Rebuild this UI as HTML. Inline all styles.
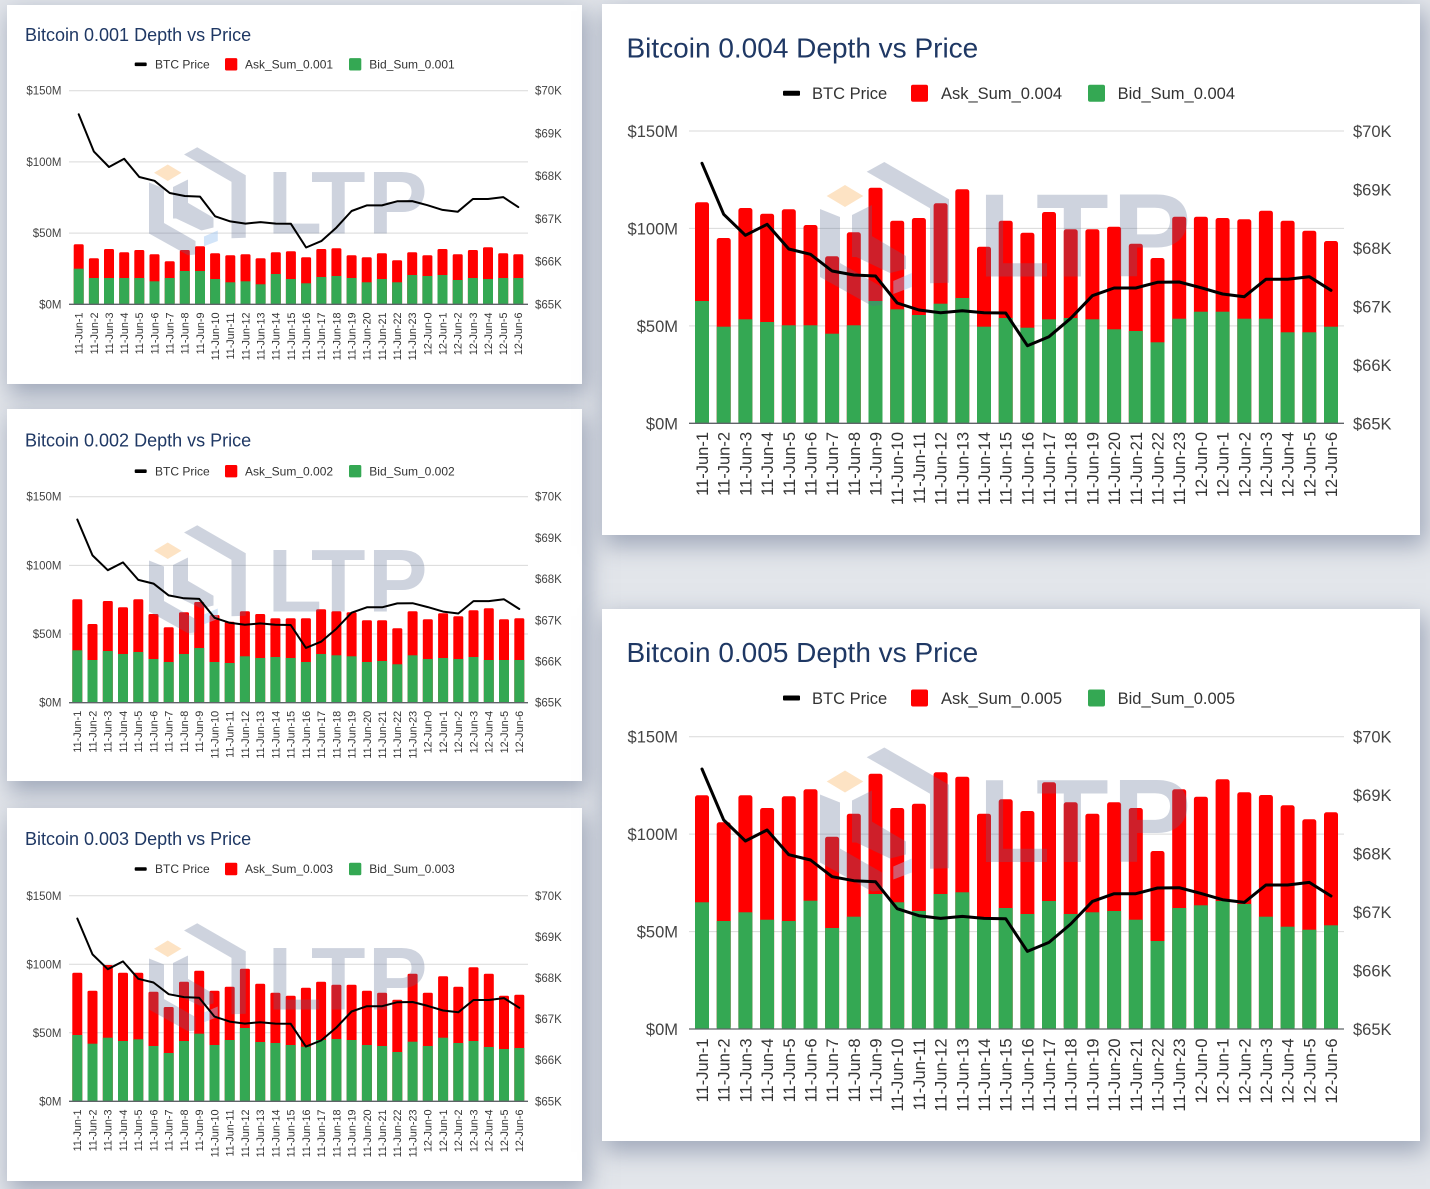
<!DOCTYPE html>
<html><head><meta charset="utf-8"><style>
html,body{margin:0;padding:0;}
body{width:1430px;height:1189px;background:#e3e6eb;position:relative;overflow:hidden;font-family:"Liberation Sans",Arial,sans-serif;}
.p{position:absolute;background:#fff;box-shadow:4px 9px 22px 2px rgba(95,110,140,0.5);}
svg{position:absolute;left:0;top:0;}
.r{fill:#ff0000}.g{fill:#34a853}
.gr{stroke:#d9d9d9;stroke-width:1}
.bs{stroke:#5f6368;stroke-width:1.3}
.ln{fill:none;stroke:#000;stroke-linejoin:round;stroke-linecap:round}
text{font-family:"Liberation Sans",Arial,sans-serif;}
.t1{font-size:18px;fill:#1f3864}
.tb{font-size:28px;fill:#1f3864}
.ax{font-size:11.5px;fill:#444}
.axb{font-size:16.5px;fill:#444}
.xl{font-size:10.8px;fill:#333}
.xlb{font-size:16.5px;fill:#333}
.lg{font-size:12px;fill:#333}
.lgb{font-size:16.5px;fill:#333}
</style></head><body>
<div class="p" style="left:7px;top:5px;width:575px;height:379px"></div>
<div class="p" style="left:7px;top:409px;width:575px;height:372px"></div>
<div class="p" style="left:7px;top:808px;width:575px;height:373px"></div>
<div class="p" style="left:602px;top:4px;width:818px;height:531px"></div>
<div class="p" style="left:602px;top:609px;width:818px;height:532px"></div>
<svg width="1430" height="1189" viewBox="0 0 1430 1189" xmlns="http://www.w3.org/2000/svg">

<!-- ================= CHART 1 ================= -->
<text class="t1" x="25" y="41">Bitcoin 0.001 Depth vs Price</text>
<rect x="134.7" y="62.5" width="12" height="3.6" rx="1" fill="#000"/>
<text class="lg" x="155" y="68.5">BTC Price</text>
<rect x="225" y="58.1" width="12.3" height="12.4" rx="1.5" class="r"/>
<text class="lg" x="245" y="68.5">Ask_Sum_0.001</text>
<rect x="349" y="58.1" width="12.3" height="12.4" rx="1.5" class="g"/>
<text class="lg" x="369.3" y="68.5">Bid_Sum_0.001</text>
<line class="gr" x1="69" y1="90.7" x2="528" y2="90.7"/>
<line class="gr" x1="69" y1="161.9" x2="528" y2="161.9"/>
<line class="gr" x1="69" y1="233.1" x2="528" y2="233.1"/>
<g text-anchor="end" class="ax"><text x="61.5" y="94.7">$150M</text><text x="61.5" y="165.9">$100M</text><text x="61.5" y="237.1">$50M</text><text x="61.5" y="308.3">$0M</text></g>
<g class="ax"><text x="535" y="94.7">$70K</text><text x="535" y="137.4">$69K</text><text x="535" y="180.1">$68K</text><text x="535" y="222.9">$67K</text><text x="535" y="265.6">$66K</text><text x="535" y="308.3">$65K</text></g>
<g>
<rect class="r" x="73.7" y="244.3" width="10" height="60" rx="1.5"/><rect class="g" x="73.7" y="268.7" width="10" height="35.6"/>
<rect class="r" x="88.9" y="258.3" width="10" height="46" rx="1.5"/><rect class="g" x="88.9" y="278" width="10" height="26.3"/>
<rect class="r" x="104" y="249" width="10" height="55.3" rx="1.5"/><rect class="g" x="104" y="278" width="10" height="26.3"/>
<rect class="r" x="119.2" y="252.3" width="10" height="52" rx="1.5"/><rect class="g" x="119.2" y="278" width="10" height="26.3"/>
<rect class="r" x="134.3" y="250" width="10" height="54.3" rx="1.5"/><rect class="g" x="134.3" y="278" width="10" height="26.3"/>
<rect class="r" x="149.5" y="254.3" width="10" height="50" rx="1.5"/><rect class="g" x="149.5" y="281.3" width="10" height="23"/>
<rect class="r" x="164.7" y="261.3" width="10" height="43" rx="1.5"/><rect class="g" x="164.7" y="278" width="10" height="26.3"/>
<rect class="r" x="179.8" y="250" width="10" height="54.3" rx="1.5"/><rect class="g" x="179.8" y="271" width="10" height="33.3"/>
<rect class="r" x="195" y="246.3" width="10" height="58" rx="1.5"/><rect class="g" x="195" y="271" width="10" height="33.3"/>
<rect class="r" x="210.1" y="253.3" width="10" height="51" rx="1.5"/><rect class="g" x="210.1" y="279" width="10" height="25.3"/>
<rect class="r" x="225.3" y="255.3" width="10" height="49" rx="1.5"/><rect class="g" x="225.3" y="282.3" width="10" height="22"/>
<rect class="r" x="240.5" y="254.3" width="10" height="50" rx="1.5"/><rect class="g" x="240.5" y="281.3" width="10" height="23"/>
<rect class="r" x="255.6" y="258.3" width="10" height="46" rx="1.5"/><rect class="g" x="255.6" y="284.3" width="10" height="20"/>
<rect class="r" x="270.8" y="252.3" width="10" height="52" rx="1.5"/><rect class="g" x="270.8" y="274" width="10" height="30.3"/>
<rect class="r" x="285.9" y="251.3" width="10" height="53" rx="1.5"/><rect class="g" x="285.9" y="279" width="10" height="25.3"/>
<rect class="r" x="301.1" y="257.3" width="10" height="47" rx="1.5"/><rect class="g" x="301.1" y="283.3" width="10" height="21"/>
<rect class="r" x="316.3" y="249" width="10" height="55.3" rx="1.5"/><rect class="g" x="316.3" y="277" width="10" height="27.3"/>
<rect class="r" x="331.4" y="248.3" width="10" height="56" rx="1.5"/><rect class="g" x="331.4" y="276" width="10" height="28.3"/>
<rect class="r" x="346.6" y="255.3" width="10" height="49" rx="1.5"/><rect class="g" x="346.6" y="278" width="10" height="26.3"/>
<rect class="r" x="361.7" y="257.3" width="10" height="47" rx="1.5"/><rect class="g" x="361.7" y="282.3" width="10" height="22"/>
<rect class="r" x="376.9" y="253.3" width="10" height="51" rx="1.5"/><rect class="g" x="376.9" y="279" width="10" height="25.3"/>
<rect class="r" x="392.1" y="260.3" width="10" height="44" rx="1.5"/><rect class="g" x="392.1" y="282.3" width="10" height="22"/>
<rect class="r" x="407.2" y="252.3" width="10" height="52" rx="1.5"/><rect class="g" x="407.2" y="275" width="10" height="29.3"/>
<rect class="r" x="422.4" y="255.3" width="10" height="49" rx="1.5"/><rect class="g" x="422.4" y="276" width="10" height="28.3"/>
<rect class="r" x="437.5" y="249" width="10" height="55.3" rx="1.5"/><rect class="g" x="437.5" y="275" width="10" height="29.3"/>
<rect class="r" x="452.7" y="254.3" width="10" height="50" rx="1.5"/><rect class="g" x="452.7" y="280" width="10" height="24.3"/>
<rect class="r" x="467.9" y="250" width="10" height="54.3" rx="1.5"/><rect class="g" x="467.9" y="278" width="10" height="26.3"/>
<rect class="r" x="483" y="247.3" width="10" height="57" rx="1.5"/><rect class="g" x="483" y="279" width="10" height="25.3"/>
<rect class="r" x="498.2" y="253.3" width="10" height="51" rx="1.5"/><rect class="g" x="498.2" y="278" width="10" height="26.3"/>
<rect class="r" x="513.3" y="254.3" width="10" height="50" rx="1.5"/><rect class="g" x="513.3" y="278" width="10" height="26.3"/>
</g>
<line class="bs" x1="69" y1="304.3" x2="528" y2="304.3"/>
<g transform="translate(149 148) scale(0.75)">
<g fill="#5a6b91" opacity="0.29">
<polygon points="46.7,8.7 64.3,-1 129,36.3 129,119.7 110,120.3 110,45.2"/>
<polygon points="0,46 20,54 20,110 0,112"/>
<polygon points="0,100 20,100 62,124 62,142 52,143 0,114"/>
<polygon points="32,52 52,42 52,94 32,94"/>
<polygon points="32,80 50,72 86,93 86,106 70,110 32,92"/>
<text x="158" y="113.7" font-size="119" font-weight="bold"><tspan x="158">L</tspan><tspan x="216">T</tspan><tspan x="292">P</tspan></text>
</g>
<polygon points="6.7,33 25,22 43.3,33 25,44" fill="#fde3c4"/>
<polygon points="73.3,118 91.7,110 91.7,124 73.3,131" fill="#9cc3f0" opacity="0.45"/>
</g>
<polyline class="ln" stroke-width="2" points="78.7,114.3 93.9,151.6 109,167 124.2,158.8 139.3,177 154.5,180.8 169.7,193 184.8,196 200,196.6 215.1,216.3 230.3,221.4 245.5,223.6 260.6,222.1 275.8,223.6 290.9,223.8 306.1,247.5 321.3,241.1 336.4,227.6 351.6,211 366.7,205.4 381.9,205.4 397.1,201.3 412.2,201.1 427.4,205.2 442.5,209.9 457.7,211.8 472.9,199 488,199 503.2,197.1 518.3,207.1"/>
<g class="xl" text-anchor="end">
<text transform="translate(82.6 312.5) rotate(-90)">11-Jun-1</text>
<text transform="translate(97.8 312.5) rotate(-90)">11-Jun-2</text>
<text transform="translate(112.9 312.5) rotate(-90)">11-Jun-3</text>
<text transform="translate(128.1 312.5) rotate(-90)">11-Jun-4</text>
<text transform="translate(143.2 312.5) rotate(-90)">11-Jun-5</text>
<text transform="translate(158.4 312.5) rotate(-90)">11-Jun-6</text>
<text transform="translate(173.6 312.5) rotate(-90)">11-Jun-7</text>
<text transform="translate(188.7 312.5) rotate(-90)">11-Jun-8</text>
<text transform="translate(203.9 312.5) rotate(-90)">11-Jun-9</text>
<text transform="translate(219 312.5) rotate(-90)">11-Jun-10</text>
<text transform="translate(234.2 312.5) rotate(-90)">11-Jun-11</text>
<text transform="translate(249.4 312.5) rotate(-90)">11-Jun-12</text>
<text transform="translate(264.5 312.5) rotate(-90)">11-Jun-13</text>
<text transform="translate(279.7 312.5) rotate(-90)">11-Jun-14</text>
<text transform="translate(294.8 312.5) rotate(-90)">11-Jun-15</text>
<text transform="translate(310 312.5) rotate(-90)">11-Jun-16</text>
<text transform="translate(325.2 312.5) rotate(-90)">11-Jun-17</text>
<text transform="translate(340.3 312.5) rotate(-90)">11-Jun-18</text>
<text transform="translate(355.5 312.5) rotate(-90)">11-Jun-19</text>
<text transform="translate(370.6 312.5) rotate(-90)">11-Jun-20</text>
<text transform="translate(385.8 312.5) rotate(-90)">11-Jun-21</text>
<text transform="translate(401 312.5) rotate(-90)">11-Jun-22</text>
<text transform="translate(416.1 312.5) rotate(-90)">11-Jun-23</text>
<text transform="translate(431.3 312.5) rotate(-90)">12-Jun-0</text>
<text transform="translate(446.4 312.5) rotate(-90)">12-Jun-1</text>
<text transform="translate(461.6 312.5) rotate(-90)">12-Jun-2</text>
<text transform="translate(476.8 312.5) rotate(-90)">12-Jun-3</text>
<text transform="translate(491.9 312.5) rotate(-90)">12-Jun-4</text>
<text transform="translate(507.1 312.5) rotate(-90)">12-Jun-5</text>
<text transform="translate(522.2 312.5) rotate(-90)">12-Jun-6</text>
</g>

<!-- ================= CHART 2 ================= -->
<text class="t1" x="25" y="446.5">Bitcoin 0.002 Depth vs Price</text>
<rect x="134.7" y="469.4" width="12" height="3.6" rx="1" fill="#000"/>
<text class="lg" x="155" y="475.3">BTC Price</text>
<rect x="225" y="465" width="12.3" height="12.4" rx="1.5" class="r"/>
<text class="lg" x="245" y="475.3">Ask_Sum_0.002</text>
<rect x="349" y="465" width="12.3" height="12.4" rx="1.5" class="g"/>
<text class="lg" x="369.3" y="475.3">Bid_Sum_0.002</text>
<line class="gr" x1="69" y1="496.7" x2="528" y2="496.7"/>
<line class="gr" x1="69" y1="565.4" x2="528" y2="565.4"/>
<line class="gr" x1="69" y1="634" x2="528" y2="634"/>
<g text-anchor="end" class="ax"><text x="61.5" y="500.7">$150M</text><text x="61.5" y="569.4">$100M</text><text x="61.5" y="638">$50M</text><text x="61.5" y="706.7">$0M</text></g>
<g class="ax"><text x="535" y="500.7">$70K</text><text x="535" y="541.9">$69K</text><text x="535" y="583.1">$68K</text><text x="535" y="624.3">$67K</text><text x="535" y="665.5">$66K</text><text x="535" y="706.7">$65K</text></g>
<g>
<rect class="r" x="72.3" y="599.3" width="10" height="103.4" rx="1.5"/><rect class="g" x="72.3" y="650.3" width="10" height="52.4"/>
<rect class="r" x="87.5" y="624" width="10" height="78.7" rx="1.5"/><rect class="g" x="87.5" y="660" width="10" height="42.7"/>
<rect class="r" x="102.8" y="601" width="10" height="101.7" rx="1.5"/><rect class="g" x="102.8" y="651" width="10" height="51.7"/>
<rect class="r" x="118" y="607.3" width="10" height="95.4" rx="1.5"/><rect class="g" x="118" y="654" width="10" height="48.7"/>
<rect class="r" x="133.3" y="599.3" width="10" height="103.4" rx="1.5"/><rect class="g" x="133.3" y="652" width="10" height="50.7"/>
<rect class="r" x="148.5" y="614" width="10" height="88.7" rx="1.5"/><rect class="g" x="148.5" y="659" width="10" height="43.7"/>
<rect class="r" x="163.7" y="627.3" width="10" height="75.4" rx="1.5"/><rect class="g" x="163.7" y="662" width="10" height="40.7"/>
<rect class="r" x="179" y="612.3" width="10" height="90.4" rx="1.5"/><rect class="g" x="179" y="654" width="10" height="48.7"/>
<rect class="r" x="194.2" y="602" width="10" height="100.7" rx="1.5"/><rect class="g" x="194.2" y="648" width="10" height="54.7"/>
<rect class="r" x="209.5" y="615" width="10" height="87.7" rx="1.5"/><rect class="g" x="209.5" y="662" width="10" height="40.7"/>
<rect class="r" x="224.7" y="621.7" width="10" height="81" rx="1.5"/><rect class="g" x="224.7" y="663" width="10" height="39.7"/>
<rect class="r" x="239.9" y="611.3" width="10" height="91.4" rx="1.5"/><rect class="g" x="239.9" y="656.3" width="10" height="46.4"/>
<rect class="r" x="255.2" y="614" width="10" height="88.7" rx="1.5"/><rect class="g" x="255.2" y="658" width="10" height="44.7"/>
<rect class="r" x="270.4" y="618.3" width="10" height="84.4" rx="1.5"/><rect class="g" x="270.4" y="657" width="10" height="45.7"/>
<rect class="r" x="285.7" y="618.3" width="10" height="84.4" rx="1.5"/><rect class="g" x="285.7" y="658" width="10" height="44.7"/>
<rect class="r" x="300.9" y="618.3" width="10" height="84.4" rx="1.5"/><rect class="g" x="300.9" y="662" width="10" height="40.7"/>
<rect class="r" x="316.1" y="609.3" width="10" height="93.4" rx="1.5"/><rect class="g" x="316.1" y="654" width="10" height="48.7"/>
<rect class="r" x="331.4" y="611.3" width="10" height="91.4" rx="1.5"/><rect class="g" x="331.4" y="655.3" width="10" height="47.4"/>
<rect class="r" x="346.6" y="612.3" width="10" height="90.4" rx="1.5"/><rect class="g" x="346.6" y="656.3" width="10" height="46.4"/>
<rect class="r" x="361.9" y="620.3" width="10" height="82.4" rx="1.5"/><rect class="g" x="361.9" y="662" width="10" height="40.7"/>
<rect class="r" x="377.1" y="620.3" width="10" height="82.4" rx="1.5"/><rect class="g" x="377.1" y="661" width="10" height="41.7"/>
<rect class="r" x="392.3" y="628.3" width="10" height="74.4" rx="1.5"/><rect class="g" x="392.3" y="664.3" width="10" height="38.4"/>
<rect class="r" x="407.6" y="611.3" width="10" height="91.4" rx="1.5"/><rect class="g" x="407.6" y="655.3" width="10" height="47.4"/>
<rect class="r" x="422.8" y="619.3" width="10" height="83.4" rx="1.5"/><rect class="g" x="422.8" y="659" width="10" height="43.7"/>
<rect class="r" x="438.1" y="613.3" width="10" height="89.4" rx="1.5"/><rect class="g" x="438.1" y="658" width="10" height="44.7"/>
<rect class="r" x="453.3" y="616.3" width="10" height="86.4" rx="1.5"/><rect class="g" x="453.3" y="659" width="10" height="43.7"/>
<rect class="r" x="468.5" y="610.3" width="10" height="92.4" rx="1.5"/><rect class="g" x="468.5" y="657" width="10" height="45.7"/>
<rect class="r" x="483.8" y="608.3" width="10" height="94.4" rx="1.5"/><rect class="g" x="483.8" y="660" width="10" height="42.7"/>
<rect class="r" x="499" y="619.3" width="10" height="83.4" rx="1.5"/><rect class="g" x="499" y="660" width="10" height="42.7"/>
<rect class="r" x="514.3" y="618.3" width="10" height="84.4" rx="1.5"/><rect class="g" x="514.3" y="660" width="10" height="42.7"/>
</g>
<line class="bs" x1="69" y1="702.7" x2="528" y2="702.7"/>
<g transform="translate(149 526) scale(0.75)">
<g fill="#5a6b91" opacity="0.29">
<polygon points="46.7,8.7 64.3,-1 129,36.3 129,119.7 110,120.3 110,45.2"/>
<polygon points="0,46 20,54 20,110 0,112"/>
<polygon points="0,100 20,100 62,124 62,142 52,143 0,114"/>
<polygon points="32,52 52,42 52,94 32,94"/>
<polygon points="32,80 50,72 86,93 86,106 70,110 32,92"/>
<text x="158" y="113.7" font-size="119" font-weight="bold"><tspan x="158">L</tspan><tspan x="216">T</tspan><tspan x="292">P</tspan></text>
</g>
<polygon points="6.7,33 25,22 43.3,33 25,44" fill="#fde3c4"/>
<polygon points="73.3,118 91.7,110 91.7,124 73.3,131" fill="#9cc3f0" opacity="0.45"/>
</g>
<polyline class="ln" stroke-width="2" points="77.3,519.5 92.5,555.4 107.8,570.2 123,562.4 138.3,579.9 153.5,583.6 168.7,595.4 184,598.3 199.2,598.9 214.5,617.8 229.7,622.8 244.9,624.8 260.2,623.4 275.4,624.8 290.7,625 305.9,647.9 321.1,641.7 336.4,628.7 351.6,612.7 366.9,607.3 382.1,607.3 397.3,603.4 412.6,603.2 427.8,607.1 443.1,611.6 458.3,613.5 473.5,601.1 488.8,601.1 504,599.3 519.3,609"/>
<g class="xl" text-anchor="end">
<text transform="translate(81.2 710.8) rotate(-90)">11-Jun-1</text>
<text transform="translate(96.4 710.8) rotate(-90)">11-Jun-2</text>
<text transform="translate(111.7 710.8) rotate(-90)">11-Jun-3</text>
<text transform="translate(126.9 710.8) rotate(-90)">11-Jun-4</text>
<text transform="translate(142.2 710.8) rotate(-90)">11-Jun-5</text>
<text transform="translate(157.4 710.8) rotate(-90)">11-Jun-6</text>
<text transform="translate(172.6 710.8) rotate(-90)">11-Jun-7</text>
<text transform="translate(187.9 710.8) rotate(-90)">11-Jun-8</text>
<text transform="translate(203.1 710.8) rotate(-90)">11-Jun-9</text>
<text transform="translate(218.4 710.8) rotate(-90)">11-Jun-10</text>
<text transform="translate(233.6 710.8) rotate(-90)">11-Jun-11</text>
<text transform="translate(248.8 710.8) rotate(-90)">11-Jun-12</text>
<text transform="translate(264.1 710.8) rotate(-90)">11-Jun-13</text>
<text transform="translate(279.3 710.8) rotate(-90)">11-Jun-14</text>
<text transform="translate(294.6 710.8) rotate(-90)">11-Jun-15</text>
<text transform="translate(309.8 710.8) rotate(-90)">11-Jun-16</text>
<text transform="translate(325 710.8) rotate(-90)">11-Jun-17</text>
<text transform="translate(340.3 710.8) rotate(-90)">11-Jun-18</text>
<text transform="translate(355.5 710.8) rotate(-90)">11-Jun-19</text>
<text transform="translate(370.8 710.8) rotate(-90)">11-Jun-20</text>
<text transform="translate(386 710.8) rotate(-90)">11-Jun-21</text>
<text transform="translate(401.2 710.8) rotate(-90)">11-Jun-22</text>
<text transform="translate(416.5 710.8) rotate(-90)">11-Jun-23</text>
<text transform="translate(431.7 710.8) rotate(-90)">12-Jun-0</text>
<text transform="translate(447 710.8) rotate(-90)">12-Jun-1</text>
<text transform="translate(462.2 710.8) rotate(-90)">12-Jun-2</text>
<text transform="translate(477.4 710.8) rotate(-90)">12-Jun-3</text>
<text transform="translate(492.7 710.8) rotate(-90)">12-Jun-4</text>
<text transform="translate(507.9 710.8) rotate(-90)">12-Jun-5</text>
<text transform="translate(523.2 710.8) rotate(-90)">12-Jun-6</text>
</g>

<!-- ================= CHART 3 ================= -->
<text class="t1" x="25" y="845">Bitcoin 0.003 Depth vs Price</text>
<rect x="134.7" y="867.2" width="12" height="3.6" rx="1" fill="#000"/>
<text class="lg" x="155" y="873.2">BTC Price</text>
<rect x="225" y="862.8" width="12.3" height="12.4" rx="1.5" class="r"/>
<text class="lg" x="245" y="873.2">Ask_Sum_0.003</text>
<rect x="349" y="862.8" width="12.3" height="12.4" rx="1.5" class="g"/>
<text class="lg" x="369.3" y="873.2">Bid_Sum_0.003</text>
<line class="gr" x1="69" y1="895.8" x2="528" y2="895.8"/>
<line class="gr" x1="69" y1="964.3" x2="528" y2="964.3"/>
<line class="gr" x1="69" y1="1032.8" x2="528" y2="1032.8"/>
<g text-anchor="end" class="ax"><text x="61.5" y="899.8">$150M</text><text x="61.5" y="968.3">$100M</text><text x="61.5" y="1036.8">$50M</text><text x="61.5" y="1105.3">$0M</text></g>
<g class="ax"><text x="535" y="899.8">$70K</text><text x="535" y="940.9">$69K</text><text x="535" y="982">$68K</text><text x="535" y="1023.1">$67K</text><text x="535" y="1064.2">$66K</text><text x="535" y="1105.3">$65K</text></g>
<g>
<rect class="r" x="72.3" y="972.7" width="10" height="128.6" rx="1.5"/><rect class="g" x="72.3" y="1035" width="10" height="66.3"/>
<rect class="r" x="87.5" y="990.7" width="10" height="110.6" rx="1.5"/><rect class="g" x="87.5" y="1043.7" width="10" height="57.6"/>
<rect class="r" x="102.8" y="965" width="10" height="136.3" rx="1.5"/><rect class="g" x="102.8" y="1037.7" width="10" height="63.6"/>
<rect class="r" x="118" y="972.7" width="10" height="128.6" rx="1.5"/><rect class="g" x="118" y="1041" width="10" height="60.3"/>
<rect class="r" x="133.3" y="972.7" width="10" height="128.6" rx="1.5"/><rect class="g" x="133.3" y="1039.3" width="10" height="62"/>
<rect class="r" x="148.5" y="991.7" width="10" height="109.6" rx="1.5"/><rect class="g" x="148.5" y="1046" width="10" height="55.3"/>
<rect class="r" x="163.7" y="1007" width="10" height="94.3" rx="1.5"/><rect class="g" x="163.7" y="1053" width="10" height="48.3"/>
<rect class="r" x="179" y="981.7" width="10" height="119.6" rx="1.5"/><rect class="g" x="179" y="1041" width="10" height="60.3"/>
<rect class="r" x="194.2" y="970.7" width="10" height="130.6" rx="1.5"/><rect class="g" x="194.2" y="1033.7" width="10" height="67.6"/>
<rect class="r" x="209.5" y="990.7" width="10" height="110.6" rx="1.5"/><rect class="g" x="209.5" y="1045" width="10" height="56.3"/>
<rect class="r" x="224.7" y="986.7" width="10" height="114.6" rx="1.5"/><rect class="g" x="224.7" y="1040" width="10" height="61.3"/>
<rect class="r" x="239.9" y="968.7" width="10" height="132.6" rx="1.5"/><rect class="g" x="239.9" y="1028" width="10" height="73.3"/>
<rect class="r" x="255.2" y="983.7" width="10" height="117.6" rx="1.5"/><rect class="g" x="255.2" y="1042" width="10" height="59.3"/>
<rect class="r" x="270.4" y="992.7" width="10" height="108.6" rx="1.5"/><rect class="g" x="270.4" y="1043" width="10" height="58.3"/>
<rect class="r" x="285.7" y="995.7" width="10" height="105.6" rx="1.5"/><rect class="g" x="285.7" y="1045" width="10" height="56.3"/>
<rect class="r" x="300.9" y="987.7" width="10" height="113.6" rx="1.5"/><rect class="g" x="300.9" y="1046.7" width="10" height="54.6"/>
<rect class="r" x="316.1" y="981.7" width="10" height="119.6" rx="1.5"/><rect class="g" x="316.1" y="1040" width="10" height="61.3"/>
<rect class="r" x="331.4" y="984.7" width="10" height="116.6" rx="1.5"/><rect class="g" x="331.4" y="1039" width="10" height="62.3"/>
<rect class="r" x="346.6" y="984.7" width="10" height="116.6" rx="1.5"/><rect class="g" x="346.6" y="1040" width="10" height="61.3"/>
<rect class="r" x="361.9" y="990.7" width="10" height="110.6" rx="1.5"/><rect class="g" x="361.9" y="1045" width="10" height="56.3"/>
<rect class="r" x="377.1" y="992.7" width="10" height="108.6" rx="1.5"/><rect class="g" x="377.1" y="1046" width="10" height="55.3"/>
<rect class="r" x="392.3" y="999.7" width="10" height="101.6" rx="1.5"/><rect class="g" x="392.3" y="1052" width="10" height="49.3"/>
<rect class="r" x="407.6" y="973.7" width="10" height="127.6" rx="1.5"/><rect class="g" x="407.6" y="1041.7" width="10" height="59.6"/>
<rect class="r" x="422.8" y="992.7" width="10" height="108.6" rx="1.5"/><rect class="g" x="422.8" y="1046" width="10" height="55.3"/>
<rect class="r" x="438.1" y="976.3" width="10" height="125" rx="1.5"/><rect class="g" x="438.1" y="1037.7" width="10" height="63.6"/>
<rect class="r" x="453.3" y="986.7" width="10" height="114.6" rx="1.5"/><rect class="g" x="453.3" y="1043" width="10" height="58.3"/>
<rect class="r" x="468.5" y="967.3" width="10" height="134" rx="1.5"/><rect class="g" x="468.5" y="1041" width="10" height="60.3"/>
<rect class="r" x="483.8" y="973.7" width="10" height="127.6" rx="1.5"/><rect class="g" x="483.8" y="1047" width="10" height="54.3"/>
<rect class="r" x="499" y="995.7" width="10" height="105.6" rx="1.5"/><rect class="g" x="499" y="1049" width="10" height="52.3"/>
<rect class="r" x="514.3" y="994.7" width="10" height="106.6" rx="1.5"/><rect class="g" x="514.3" y="1048" width="10" height="53.3"/>
</g>
<line class="bs" x1="69" y1="1101.3" x2="528" y2="1101.3"/>
<g transform="translate(149 924) scale(0.75)">
<g fill="#5a6b91" opacity="0.29">
<polygon points="46.7,8.7 64.3,-1 129,36.3 129,119.7 110,120.3 110,45.2"/>
<polygon points="0,46 20,54 20,110 0,112"/>
<polygon points="0,100 20,100 62,124 62,142 52,143 0,114"/>
<polygon points="32,52 52,42 52,94 32,94"/>
<polygon points="32,80 50,72 86,93 86,106 70,110 32,92"/>
<text x="158" y="113.7" font-size="119" font-weight="bold"><tspan x="158">L</tspan><tspan x="216">T</tspan><tspan x="292">P</tspan></text>
</g>
<polygon points="6.7,33 25,22 43.3,33 25,44" fill="#fde3c4"/>
<polygon points="73.3,118 91.7,110 91.7,124 73.3,131" fill="#9cc3f0" opacity="0.45"/>
</g>
<polyline class="ln" stroke-width="2" points="77.3,918.5 92.5,954.4 107.8,969.2 123,961.4 138.3,978.8 153.5,982.5 168.7,994.2 184,997.1 199.2,997.7 214.5,1016.6 229.7,1021.6 244.9,1023.6 260.2,1022.2 275.4,1023.6 290.7,1023.8 305.9,1046.6 321.1,1040.5 336.4,1027.5 351.6,1011.5 366.9,1006.2 382.1,1006.2 397.3,1002.2 412.6,1002 427.8,1005.9 443.1,1010.5 458.3,1012.3 473.5,1000 488.8,1000 504,998.1 519.3,1007.8"/>
<g class="xl" text-anchor="end">
<text transform="translate(81.2 1109.5) rotate(-90)">11-Jun-1</text>
<text transform="translate(96.4 1109.5) rotate(-90)">11-Jun-2</text>
<text transform="translate(111.7 1109.5) rotate(-90)">11-Jun-3</text>
<text transform="translate(126.9 1109.5) rotate(-90)">11-Jun-4</text>
<text transform="translate(142.2 1109.5) rotate(-90)">11-Jun-5</text>
<text transform="translate(157.4 1109.5) rotate(-90)">11-Jun-6</text>
<text transform="translate(172.6 1109.5) rotate(-90)">11-Jun-7</text>
<text transform="translate(187.9 1109.5) rotate(-90)">11-Jun-8</text>
<text transform="translate(203.1 1109.5) rotate(-90)">11-Jun-9</text>
<text transform="translate(218.4 1109.5) rotate(-90)">11-Jun-10</text>
<text transform="translate(233.6 1109.5) rotate(-90)">11-Jun-11</text>
<text transform="translate(248.8 1109.5) rotate(-90)">11-Jun-12</text>
<text transform="translate(264.1 1109.5) rotate(-90)">11-Jun-13</text>
<text transform="translate(279.3 1109.5) rotate(-90)">11-Jun-14</text>
<text transform="translate(294.6 1109.5) rotate(-90)">11-Jun-15</text>
<text transform="translate(309.8 1109.5) rotate(-90)">11-Jun-16</text>
<text transform="translate(325 1109.5) rotate(-90)">11-Jun-17</text>
<text transform="translate(340.3 1109.5) rotate(-90)">11-Jun-18</text>
<text transform="translate(355.5 1109.5) rotate(-90)">11-Jun-19</text>
<text transform="translate(370.8 1109.5) rotate(-90)">11-Jun-20</text>
<text transform="translate(386 1109.5) rotate(-90)">11-Jun-21</text>
<text transform="translate(401.2 1109.5) rotate(-90)">11-Jun-22</text>
<text transform="translate(416.5 1109.5) rotate(-90)">11-Jun-23</text>
<text transform="translate(431.7 1109.5) rotate(-90)">12-Jun-0</text>
<text transform="translate(447 1109.5) rotate(-90)">12-Jun-1</text>
<text transform="translate(462.2 1109.5) rotate(-90)">12-Jun-2</text>
<text transform="translate(477.4 1109.5) rotate(-90)">12-Jun-3</text>
<text transform="translate(492.7 1109.5) rotate(-90)">12-Jun-4</text>
<text transform="translate(507.9 1109.5) rotate(-90)">12-Jun-5</text>
<text transform="translate(523.2 1109.5) rotate(-90)">12-Jun-6</text>
</g>

<!-- ================= CHART 4 ================= -->
<text class="tb" x="626.5" y="57.5">Bitcoin 0.004 Depth vs Price</text>
<rect x="783" y="90.7" width="17" height="5" rx="1" fill="#000"/>
<text class="lgb" x="812" y="99">BTC Price</text>
<rect x="911" y="84.7" width="17" height="17" rx="2" class="r"/>
<text class="lgb" x="941" y="99">Ask_Sum_0.004</text>
<rect x="1088" y="84.7" width="17" height="17" rx="2" class="g"/>
<text class="lgb" x="1117.6" y="99">Bid_Sum_0.004</text>
<line class="gr" x1="689" y1="131" x2="1344" y2="131" stroke-width="1.3"/>
<line class="gr" x1="689" y1="228.4" x2="1344" y2="228.4" stroke-width="1.3"/>
<line class="gr" x1="689" y1="325.9" x2="1344" y2="325.9" stroke-width="1.3"/>
<g text-anchor="end" class="axb"><text x="678" y="137">$150M</text><text x="678" y="234.4">$100M</text><text x="678" y="331.9">$50M</text><text x="678" y="429.3">$0M</text></g>
<g class="axb"><text x="1353" y="137">$70K</text><text x="1353" y="195.5">$69K</text><text x="1353" y="253.9">$68K</text><text x="1353" y="312.4">$67K</text><text x="1353" y="370.8">$66K</text><text x="1353" y="429.3">$65K</text></g>
<g>
<rect class="r" x="695" y="202.3" width="14" height="221" rx="2.5"/><rect class="g" x="695" y="301" width="14" height="122.3"/>
<rect class="r" x="716.7" y="238" width="14" height="185.3" rx="2.5"/><rect class="g" x="716.7" y="326.7" width="14" height="96.6"/>
<rect class="r" x="738.4" y="208" width="14" height="215.3" rx="2.5"/><rect class="g" x="738.4" y="319.3" width="14" height="104"/>
<rect class="r" x="760.1" y="213.7" width="14" height="209.6" rx="2.5"/><rect class="g" x="760.1" y="322" width="14" height="101.3"/>
<rect class="r" x="781.8" y="209.3" width="14" height="214" rx="2.5"/><rect class="g" x="781.8" y="325.3" width="14" height="98"/>
<rect class="r" x="803.5" y="225" width="14" height="198.3" rx="2.5"/><rect class="g" x="803.5" y="325.3" width="14" height="98"/>
<rect class="r" x="825.1" y="256.3" width="14" height="167" rx="2.5"/><rect class="g" x="825.1" y="333.7" width="14" height="89.6"/>
<rect class="r" x="846.8" y="232.3" width="14" height="191" rx="2.5"/><rect class="g" x="846.8" y="325.3" width="14" height="98"/>
<rect class="r" x="868.5" y="187.7" width="14" height="235.6" rx="2.5"/><rect class="g" x="868.5" y="301" width="14" height="122.3"/>
<rect class="r" x="890.2" y="220.7" width="14" height="202.6" rx="2.5"/><rect class="g" x="890.2" y="309.3" width="14" height="114"/>
<rect class="r" x="911.9" y="218" width="14" height="205.3" rx="2.5"/><rect class="g" x="911.9" y="315" width="14" height="108.3"/>
<rect class="r" x="933.6" y="203.3" width="14" height="220" rx="2.5"/><rect class="g" x="933.6" y="303.7" width="14" height="119.6"/>
<rect class="r" x="955.3" y="189.3" width="14" height="234" rx="2.5"/><rect class="g" x="955.3" y="298" width="14" height="125.3"/>
<rect class="r" x="977" y="246.7" width="14" height="176.6" rx="2.5"/><rect class="g" x="977" y="326.7" width="14" height="96.6"/>
<rect class="r" x="998.7" y="220.7" width="14" height="202.6" rx="2.5"/><rect class="g" x="998.7" y="318" width="14" height="105.3"/>
<rect class="r" x="1020.4" y="232.7" width="14" height="190.6" rx="2.5"/><rect class="g" x="1020.4" y="327.7" width="14" height="95.6"/>
<rect class="r" x="1042" y="212" width="14" height="211.3" rx="2.5"/><rect class="g" x="1042" y="319.3" width="14" height="104"/>
<rect class="r" x="1063.7" y="229.3" width="14" height="194" rx="2.5"/><rect class="g" x="1063.7" y="318" width="14" height="105.3"/>
<rect class="r" x="1085.4" y="229.3" width="14" height="194" rx="2.5"/><rect class="g" x="1085.4" y="319.3" width="14" height="104"/>
<rect class="r" x="1107.1" y="226.7" width="14" height="196.6" rx="2.5"/><rect class="g" x="1107.1" y="329.3" width="14" height="94"/>
<rect class="r" x="1128.8" y="243.7" width="14" height="179.6" rx="2.5"/><rect class="g" x="1128.8" y="331" width="14" height="92.3"/>
<rect class="r" x="1150.5" y="258" width="14" height="165.3" rx="2.5"/><rect class="g" x="1150.5" y="342.3" width="14" height="81"/>
<rect class="r" x="1172.2" y="216.7" width="14" height="206.6" rx="2.5"/><rect class="g" x="1172.2" y="318.7" width="14" height="104.6"/>
<rect class="r" x="1193.9" y="216.7" width="14" height="206.6" rx="2.5"/><rect class="g" x="1193.9" y="311.7" width="14" height="111.6"/>
<rect class="r" x="1215.6" y="218" width="14" height="205.3" rx="2.5"/><rect class="g" x="1215.6" y="311.7" width="14" height="111.6"/>
<rect class="r" x="1237.3" y="219.3" width="14" height="204" rx="2.5"/><rect class="g" x="1237.3" y="318.7" width="14" height="104.6"/>
<rect class="r" x="1258.9" y="210.7" width="14" height="212.6" rx="2.5"/><rect class="g" x="1258.9" y="318.7" width="14" height="104.6"/>
<rect class="r" x="1280.6" y="220.7" width="14" height="202.6" rx="2.5"/><rect class="g" x="1280.6" y="332.3" width="14" height="91"/>
<rect class="r" x="1302.3" y="230.7" width="14" height="192.6" rx="2.5"/><rect class="g" x="1302.3" y="332.3" width="14" height="91"/>
<rect class="r" x="1324" y="241" width="14" height="182.3" rx="2.5"/><rect class="g" x="1324" y="326.7" width="14" height="96.6"/>
</g>
<line class="bs" x1="689" y1="423.3" x2="1344" y2="423.3" stroke-width="1.8"/>
<g transform="translate(820 163)">
<g fill="#5a6b91" opacity="0.29">
<polygon points="46.7,8.7 64.3,-1 129,36.3 129,119.7 110,120.3 110,45.2"/>
<polygon points="0,46 20,54 20,110 0,112"/>
<polygon points="0,100 20,100 62,124 62,142 52,143 0,114"/>
<polygon points="32,52 52,42 52,94 32,94"/>
<polygon points="32,80 50,72 86,93 86,106 70,110 32,92"/>
<text x="158" y="113.7" font-size="119" font-weight="bold"><tspan x="158">L</tspan><tspan x="216">T</tspan><tspan x="292">P</tspan></text>
</g>
<polygon points="6.7,33 25,22 43.3,33 25,44" fill="#fde3c4"/>
<polygon points="73.3,118 91.7,110 91.7,124 73.3,131" fill="#9cc3f0" opacity="0.45"/>
</g>
<polyline class="ln" stroke-width="3" points="702,163.3 723.7,214.3 745.4,235.3 767.1,224.3 788.8,249 810.5,254.3 832.1,271 853.8,275 875.5,276 897.2,303 918.9,310 940.6,312.7 962.3,310.7 984,312.7 1005.7,313 1027.4,345.7 1049,336.7 1070.7,318.3 1092.4,295.7 1114.1,288 1135.8,288 1157.5,282.3 1179.2,282 1200.9,287.7 1222.6,294 1244.3,296.7 1265.9,279.3 1287.6,279.3 1309.3,276.7 1331,290.3"/>
<g class="xlb" text-anchor="end">
<text transform="translate(708 432) rotate(-90)">11-Jun-1</text>
<text transform="translate(729.7 432) rotate(-90)">11-Jun-2</text>
<text transform="translate(751.4 432) rotate(-90)">11-Jun-3</text>
<text transform="translate(773.1 432) rotate(-90)">11-Jun-4</text>
<text transform="translate(794.8 432) rotate(-90)">11-Jun-5</text>
<text transform="translate(816.5 432) rotate(-90)">11-Jun-6</text>
<text transform="translate(838.1 432) rotate(-90)">11-Jun-7</text>
<text transform="translate(859.8 432) rotate(-90)">11-Jun-8</text>
<text transform="translate(881.5 432) rotate(-90)">11-Jun-9</text>
<text transform="translate(903.2 432) rotate(-90)">11-Jun-10</text>
<text transform="translate(924.9 432) rotate(-90)">11-Jun-11</text>
<text transform="translate(946.6 432) rotate(-90)">11-Jun-12</text>
<text transform="translate(968.3 432) rotate(-90)">11-Jun-13</text>
<text transform="translate(990 432) rotate(-90)">11-Jun-14</text>
<text transform="translate(1011.7 432) rotate(-90)">11-Jun-15</text>
<text transform="translate(1033.4 432) rotate(-90)">11-Jun-16</text>
<text transform="translate(1055 432) rotate(-90)">11-Jun-17</text>
<text transform="translate(1076.7 432) rotate(-90)">11-Jun-18</text>
<text transform="translate(1098.4 432) rotate(-90)">11-Jun-19</text>
<text transform="translate(1120.1 432) rotate(-90)">11-Jun-20</text>
<text transform="translate(1141.8 432) rotate(-90)">11-Jun-21</text>
<text transform="translate(1163.5 432) rotate(-90)">11-Jun-22</text>
<text transform="translate(1185.2 432) rotate(-90)">11-Jun-23</text>
<text transform="translate(1206.9 432) rotate(-90)">12-Jun-0</text>
<text transform="translate(1228.6 432) rotate(-90)">12-Jun-1</text>
<text transform="translate(1250.3 432) rotate(-90)">12-Jun-2</text>
<text transform="translate(1271.9 432) rotate(-90)">12-Jun-3</text>
<text transform="translate(1293.6 432) rotate(-90)">12-Jun-4</text>
<text transform="translate(1315.3 432) rotate(-90)">12-Jun-5</text>
<text transform="translate(1337 432) rotate(-90)">12-Jun-6</text>
</g>

<!-- ================= CHART 5 ================= -->
<text class="tb" x="626.5" y="662">Bitcoin 0.005 Depth vs Price</text>
<rect x="783" y="695.5" width="17" height="5" rx="1" fill="#000"/>
<text class="lgb" x="812" y="704">BTC Price</text>
<rect x="911" y="689.5" width="17" height="17" rx="2" class="r"/>
<text class="lgb" x="941" y="704">Ask_Sum_0.005</text>
<rect x="1088" y="689.5" width="17" height="17" rx="2" class="g"/>
<text class="lgb" x="1117.6" y="704">Bid_Sum_0.005</text>
<line class="gr" x1="689" y1="736.7" x2="1344" y2="736.7" stroke-width="1.3"/>
<line class="gr" x1="689" y1="834.1" x2="1344" y2="834.1" stroke-width="1.3"/>
<line class="gr" x1="689" y1="931.6" x2="1344" y2="931.6" stroke-width="1.3"/>
<g text-anchor="end" class="axb"><text x="678" y="742.7">$150M</text><text x="678" y="840.1">$100M</text><text x="678" y="937.6">$50M</text><text x="678" y="1035">$0M</text></g>
<g class="axb"><text x="1353" y="742.7">$70K</text><text x="1353" y="801.2">$69K</text><text x="1353" y="859.6">$68K</text><text x="1353" y="918.1">$67K</text><text x="1353" y="976.5">$66K</text><text x="1353" y="1035">$65K</text></g>
<g>
<rect class="r" x="695" y="795.3" width="14" height="233.7" rx="2.5"/><rect class="g" x="695" y="902.3" width="14" height="126.7"/>
<rect class="r" x="716.7" y="822.3" width="14" height="206.7" rx="2.5"/><rect class="g" x="716.7" y="921" width="14" height="108"/>
<rect class="r" x="738.4" y="795.3" width="14" height="233.7" rx="2.5"/><rect class="g" x="738.4" y="912.3" width="14" height="116.7"/>
<rect class="r" x="760.1" y="808" width="14" height="221" rx="2.5"/><rect class="g" x="760.1" y="919.7" width="14" height="109.3"/>
<rect class="r" x="781.8" y="796.3" width="14" height="232.7" rx="2.5"/><rect class="g" x="781.8" y="921" width="14" height="108"/>
<rect class="r" x="803.5" y="789.3" width="14" height="239.7" rx="2.5"/><rect class="g" x="803.5" y="900.7" width="14" height="128.3"/>
<rect class="r" x="825.1" y="836.7" width="14" height="192.3" rx="2.5"/><rect class="g" x="825.1" y="928" width="14" height="101"/>
<rect class="r" x="846.8" y="813.7" width="14" height="215.3" rx="2.5"/><rect class="g" x="846.8" y="916.7" width="14" height="112.3"/>
<rect class="r" x="868.5" y="773.7" width="14" height="255.3" rx="2.5"/><rect class="g" x="868.5" y="894" width="14" height="135"/>
<rect class="r" x="890.2" y="808" width="14" height="221" rx="2.5"/><rect class="g" x="890.2" y="902.3" width="14" height="126.7"/>
<rect class="r" x="911.9" y="803.7" width="14" height="225.3" rx="2.5"/><rect class="g" x="911.9" y="911" width="14" height="118"/>
<rect class="r" x="933.6" y="772.3" width="14" height="256.7" rx="2.5"/><rect class="g" x="933.6" y="894" width="14" height="135"/>
<rect class="r" x="955.3" y="776.7" width="14" height="252.3" rx="2.5"/><rect class="g" x="955.3" y="892.3" width="14" height="136.7"/>
<rect class="r" x="977" y="813.7" width="14" height="215.3" rx="2.5"/><rect class="g" x="977" y="918" width="14" height="111"/>
<rect class="r" x="998.7" y="799.3" width="14" height="229.7" rx="2.5"/><rect class="g" x="998.7" y="908" width="14" height="121"/>
<rect class="r" x="1020.4" y="811" width="14" height="218" rx="2.5"/><rect class="g" x="1020.4" y="914" width="14" height="115"/>
<rect class="r" x="1042" y="782.3" width="14" height="246.7" rx="2.5"/><rect class="g" x="1042" y="901" width="14" height="128"/>
<rect class="r" x="1063.7" y="802.3" width="14" height="226.7" rx="2.5"/><rect class="g" x="1063.7" y="914" width="14" height="115"/>
<rect class="r" x="1085.4" y="813.7" width="14" height="215.3" rx="2.5"/><rect class="g" x="1085.4" y="912.3" width="14" height="116.7"/>
<rect class="r" x="1107.1" y="802.3" width="14" height="226.7" rx="2.5"/><rect class="g" x="1107.1" y="911" width="14" height="118"/>
<rect class="r" x="1128.8" y="808" width="14" height="221" rx="2.5"/><rect class="g" x="1128.8" y="919.7" width="14" height="109.3"/>
<rect class="r" x="1150.5" y="851" width="14" height="178" rx="2.5"/><rect class="g" x="1150.5" y="941" width="14" height="88"/>
<rect class="r" x="1172.2" y="789.3" width="14" height="239.7" rx="2.5"/><rect class="g" x="1172.2" y="908" width="14" height="121"/>
<rect class="r" x="1193.9" y="796.7" width="14" height="232.3" rx="2.5"/><rect class="g" x="1193.9" y="905.3" width="14" height="123.7"/>
<rect class="r" x="1215.6" y="779.3" width="14" height="249.7" rx="2.5"/><rect class="g" x="1215.6" y="901" width="14" height="128"/>
<rect class="r" x="1237.3" y="792.3" width="14" height="236.7" rx="2.5"/><rect class="g" x="1237.3" y="904" width="14" height="125"/>
<rect class="r" x="1258.9" y="795" width="14" height="234" rx="2.5"/><rect class="g" x="1258.9" y="916.7" width="14" height="112.3"/>
<rect class="r" x="1280.6" y="805.3" width="14" height="223.7" rx="2.5"/><rect class="g" x="1280.6" y="926.7" width="14" height="102.3"/>
<rect class="r" x="1302.3" y="819.3" width="14" height="209.7" rx="2.5"/><rect class="g" x="1302.3" y="929.7" width="14" height="99.3"/>
<rect class="r" x="1324" y="812.3" width="14" height="216.7" rx="2.5"/><rect class="g" x="1324" y="925.3" width="14" height="103.7"/>
</g>
<line class="bs" x1="689" y1="1029" x2="1344" y2="1029" stroke-width="1.8"/>
<g transform="translate(820 748.5)">
<g fill="#5a6b91" opacity="0.29">
<polygon points="46.7,8.7 64.3,-1 129,36.3 129,119.7 110,120.3 110,45.2"/>
<polygon points="0,46 20,54 20,110 0,112"/>
<polygon points="0,100 20,100 62,124 62,142 52,143 0,114"/>
<polygon points="32,52 52,42 52,94 32,94"/>
<polygon points="32,80 50,72 86,93 86,106 70,110 32,92"/>
<text x="158" y="113.7" font-size="119" font-weight="bold"><tspan x="158">L</tspan><tspan x="216">T</tspan><tspan x="292">P</tspan></text>
</g>
<polygon points="6.7,33 25,22 43.3,33 25,44" fill="#fde3c4"/>
<polygon points="73.3,118 91.7,110 91.7,124 73.3,131" fill="#9cc3f0" opacity="0.45"/>
</g>
<polyline class="ln" stroke-width="3" points="702,769 723.7,820 745.4,841 767.1,830 788.8,854.7 810.5,860 832.1,876.7 853.8,880.7 875.5,881.7 897.2,908.7 918.9,915.7 940.6,918.4 962.3,916.4 984,918.4 1005.7,918.7 1027.4,951.4 1049,942.4 1070.7,924 1092.4,901.4 1114.1,893.7 1135.8,893.7 1157.5,888 1179.2,887.7 1200.9,893.4 1222.6,899.7 1244.3,902.4 1265.9,885 1287.6,885 1309.3,882.4 1331,896"/>
<g class="xlb" text-anchor="end">
<text transform="translate(708 1038.5) rotate(-90)">11-Jun-1</text>
<text transform="translate(729.7 1038.5) rotate(-90)">11-Jun-2</text>
<text transform="translate(751.4 1038.5) rotate(-90)">11-Jun-3</text>
<text transform="translate(773.1 1038.5) rotate(-90)">11-Jun-4</text>
<text transform="translate(794.8 1038.5) rotate(-90)">11-Jun-5</text>
<text transform="translate(816.5 1038.5) rotate(-90)">11-Jun-6</text>
<text transform="translate(838.1 1038.5) rotate(-90)">11-Jun-7</text>
<text transform="translate(859.8 1038.5) rotate(-90)">11-Jun-8</text>
<text transform="translate(881.5 1038.5) rotate(-90)">11-Jun-9</text>
<text transform="translate(903.2 1038.5) rotate(-90)">11-Jun-10</text>
<text transform="translate(924.9 1038.5) rotate(-90)">11-Jun-11</text>
<text transform="translate(946.6 1038.5) rotate(-90)">11-Jun-12</text>
<text transform="translate(968.3 1038.5) rotate(-90)">11-Jun-13</text>
<text transform="translate(990 1038.5) rotate(-90)">11-Jun-14</text>
<text transform="translate(1011.7 1038.5) rotate(-90)">11-Jun-15</text>
<text transform="translate(1033.4 1038.5) rotate(-90)">11-Jun-16</text>
<text transform="translate(1055 1038.5) rotate(-90)">11-Jun-17</text>
<text transform="translate(1076.7 1038.5) rotate(-90)">11-Jun-18</text>
<text transform="translate(1098.4 1038.5) rotate(-90)">11-Jun-19</text>
<text transform="translate(1120.1 1038.5) rotate(-90)">11-Jun-20</text>
<text transform="translate(1141.8 1038.5) rotate(-90)">11-Jun-21</text>
<text transform="translate(1163.5 1038.5) rotate(-90)">11-Jun-22</text>
<text transform="translate(1185.2 1038.5) rotate(-90)">11-Jun-23</text>
<text transform="translate(1206.9 1038.5) rotate(-90)">12-Jun-0</text>
<text transform="translate(1228.6 1038.5) rotate(-90)">12-Jun-1</text>
<text transform="translate(1250.3 1038.5) rotate(-90)">12-Jun-2</text>
<text transform="translate(1271.9 1038.5) rotate(-90)">12-Jun-3</text>
<text transform="translate(1293.6 1038.5) rotate(-90)">12-Jun-4</text>
<text transform="translate(1315.3 1038.5) rotate(-90)">12-Jun-5</text>
<text transform="translate(1337 1038.5) rotate(-90)">12-Jun-6</text>
</g>
</svg>
</body></html>
